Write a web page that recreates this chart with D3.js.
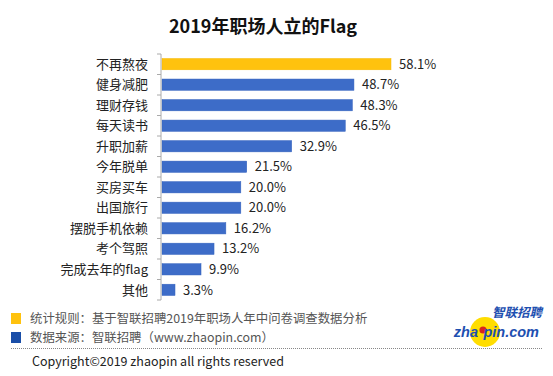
<!DOCTYPE html>
<html>
<head>
<meta charset="utf-8">
<script src="https://cdn.jsdelivr.net/npm/d3@7"></script>
<style>
  body { margin: 0; background: #fff; }
  text { font-family: "Noto Sans CJK SC", "Noto Sans", sans-serif; }
</style>
</head>
<body>
<svg width="553" height="376"></svg>
<script>
const categories = ['不再熬夜', '健身减肥', '理财存钱', '每天读书', '升职加薪', '今年脱单',
  '买房买车', '出国旅行', '摆脱手机依赖', '考个驾照', '完成去年的flag', '其他'];
const values = [58.1, 48.7, 48.3, 46.5, 32.9, 21.5, 20.0, 20.0, 16.2, 13.2, 9.9, 3.3];
const legendLines = ['统计规则：基于智联招聘2019年职场人年中问卷调查数据分析',
  '数据来源：智联招聘（www.zhaopin.com）'];

const svg = d3.select('svg');

svg.append('text')
  .attr('x', 263).attr('y', 33)
  .attr('text-anchor', 'middle')
  .style('font-size', '18px').style('font-weight', 'bold')
  .attr('fill', '#111')
  .text('2019年职场人立的Flag');

// scales
const x = d3.scaleLinear().domain([0, 58.1]).range([162, 391]);
const y = d3.scaleBand().domain(categories).range([54, 300]).paddingInner(0.45).paddingOuter(0.22);

const bars = svg.append('g');
bars.selectAll('rect')
  .data(categories)
  .enter()
  .append('rect')
  .attr('x', x(0))
  .attr('y', d => y(d))
  .attr('height', y.bandwidth())
  .attr('width', (d, i) => x(values[i]) - x(0))
  .attr('fill', (d, i) => i === 0 ? '#ffc20e' : '#3d6cc8')
  .attr('stroke', (d, i) => i === 0 ? '#f5b800' : '#3563be')
  .attr('stroke-width', 0.5);

bars.selectAll('.val')
  .data(categories)
  .enter()
  .append('text')
  .attr('class', 'val')
  .attr('x', (d, i) => x(values[i]) + 8)
  .attr('y', d => y(d) + y.bandwidth() / 2)
  .attr('dy', '0.36em')
  .style('font-size', '13px')
  .attr('fill', '#222')
  .text((d, i) => values[i].toFixed(1) + '%');

// axis with band-boundary ticks
const axisG = svg.append('g');
axisG.append('line')
  .attr('x1', 161).attr('x2', 161)
  .attr('y1', 54).attr('y2', 300)
  .attr('stroke', '#aaa');
d3.range(13).forEach(i => {
  const yy = 54 + (300 - 54) / 12 * i;
  axisG.append('line')
    .attr('x1', 157).attr('x2', 161)
    .attr('y1', yy).attr('y2', yy)
    .attr('stroke', '#aaa');
});
axisG.selectAll('.cat')
  .data(categories)
  .enter()
  .append('text')
  .attr('class', 'cat')
  .attr('x', 148)
  .attr('y', d => y(d) + y.bandwidth() / 2)
  .attr('dy', '0.36em')
  .attr('text-anchor', 'end')
  .style('font-size', '13px')
  .attr('fill', '#222')
  .text(d => d);

// legend / notes
const legendColors = ['#ffc20e', '#1a4ea8'];
legendLines.forEach((t, i) => {
  svg.append('rect')
    .attr('x', 11).attr('y', 313 + i * 19)
    .attr('width', 10).attr('height', 11)
    .attr('fill', legendColors[i]);
  svg.append('text')
    .attr('x', 30).attr('y', 323 + i * 19)
    .style('font-size', '12.4px')
    .attr('fill', '#555')
    .text(t);
});

svg.append('line')
  .attr('x1', 11).attr('x2', 543)
  .attr('y1', 348.5).attr('y2', 348.5)
  .attr('stroke', '#888')
  .attr('stroke-dasharray', '1,1');

svg.append('text')
  .attr('x', 32).attr('y', 366)
  .style('font-size', '12.5px')
  .attr('fill', '#222')
  .text('Copyright©2019 zhaopin all rights reserved');

// logo
const logo = svg.append('g');
logo.append('circle').attr('cx', 485).attr('cy', 332).attr('r', 15).attr('fill', '#ffdd00');
logo.append('circle').attr('cx', 483).attr('cy', 330).attr('r', 3.6).attr('fill', '#d9261c');
logo.append('text')
  .attr('x', 542).attr('y', 317)
  .attr('text-anchor', 'end')
  .style('font-size', '12.5px').style('font-weight', 'bold').style('font-style', 'italic')
  .attr('fill', '#1e4fb0')
  .text('智联招聘');
logo.append('text')
  .attr('x', 478).attr('y', 337)
  .attr('text-anchor', 'end')
  .style('font-size', '14.5px').style('font-weight', 'bold').style('font-style', 'italic')
  .style('font-family', 'Arial, "Liberation Sans", sans-serif')
  .attr('fill', '#1e4fb0')
  .text('zha');
logo.append('text')
  .attr('x', 539).attr('y', 337)
  .attr('text-anchor', 'end')
  .style('font-size', '14.5px').style('font-weight', 'bold').style('font-style', 'italic')
  .style('font-family', 'Arial, "Liberation Sans", sans-serif')
  .attr('fill', '#1e4fb0')
  .text('pin.com');
</script>
</body>
</html>
